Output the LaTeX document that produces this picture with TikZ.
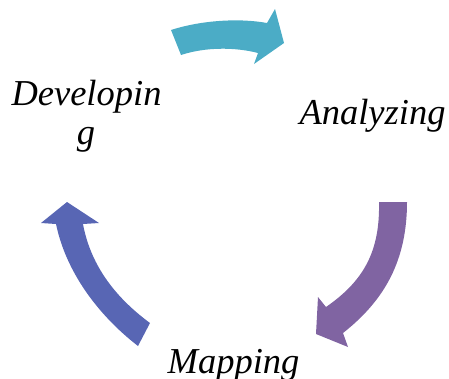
\documentclass[tikz,border=0pt]{standalone}
\usepackage{fontspec}
\setmainfont{Liberation Serif}
\definecolor{cycteal}{HTML}{4BACC6}
\definecolor{cycpurple}{HTML}{8064A2}
\definecolor{cycblue}{HTML}{5866B4}
\begin{document}
\begin{tikzpicture}[x=1pt,y=-1pt,
  label/.style={inner sep=0pt,anchor=base,font=\fontsize{36.5}{39}\selectfont\itshape},
  cyclearrow/.style={draw=none}]
\useasboundingbox (0,0) rectangle (449,378);
\clip (0,0) rectangle (449,378);

% stage labels
\node[label] (dev1) at (86.5,105) {Developin};
\node[label] (dev2) at (86,144) {g};
\node[label] (ana) at (372.5,124) {Analyzing};
\node[label] (map) at (233.5,373) {Mapping};

% curved block arrows of the cycle
\fill[cycteal,cyclearrow] (171,30) .. controls (202,20) and (240,18) .. (267,23)
  -- (275,9) -- (284,43) -- (254,64) -- (258,53)
  .. controls (235,47) and (205,47) .. (181,55) -- cycle;
\fill[cycpurple,cyclearrow] (379,202) -- (407,202)
  .. controls (407,260) and (385,300) .. (343,333)
  -- (348,347) -- (316,334) -- (318,297) -- (326,307)
  .. controls (365,280) and (380,250) .. (379,202) -- cycle;
\fill[cycblue,cyclearrow] (150,323) -- (138,346)
  .. controls (98,315) and (66,272) .. (56,224)
  -- (41,223) -- (67,202) -- (99,223) -- (83,224)
  .. controls (90,262) and (112,295) .. (150,323) -- cycle;
\end{tikzpicture}
\end{document}
